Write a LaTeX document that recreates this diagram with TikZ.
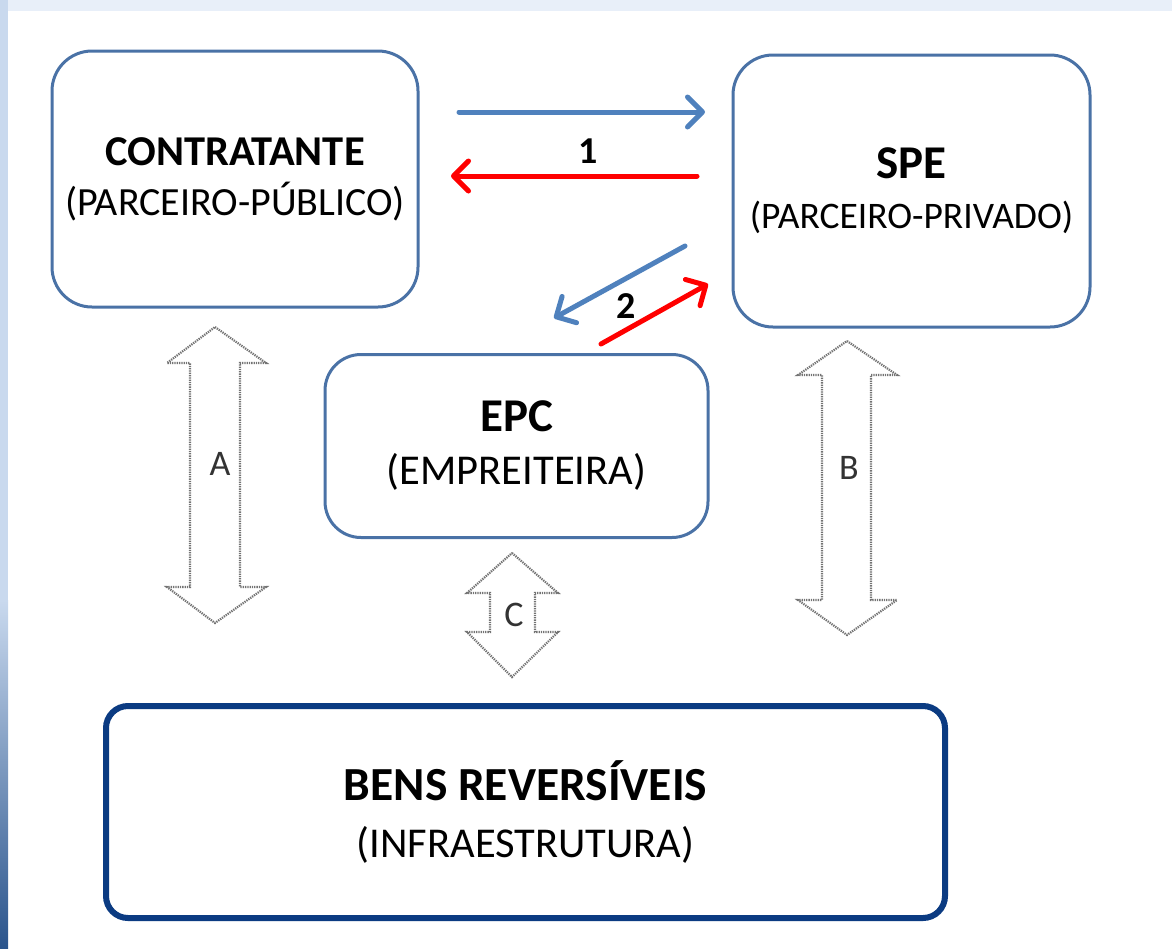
\documentclass[tikz,border=0pt]{standalone}
\usepackage{fontspec}
\setmainfont{Carlito}
\usetikzlibrary{arrows.meta}
\definecolor{boxblue}{HTML}{4A72A6}
\definecolor{navy}{HTML}{0B3B82}
\definecolor{arrblue}{HTML}{4F81BD}
\definecolor{arrred}{HTML}{FF0000}
\definecolor{framebg}{HTML}{E8EFF9}
\definecolor{framemid}{HTML}{C9D9EE}
\definecolor{framedark}{HTML}{2A548C}
\newcommand{\fsz}[2]{\fontsize{#1}{#2}\selectfont}
\tikzset{
  x=1pt, y=-1pt,
  entity/.style={draw=boxblue, line width=3pt, rounded corners=40pt, fill=white,
    align=center, inner sep=0pt},
  bigentity/.style={draw=navy, line width=6pt, rounded corners=22pt, fill=white,
    align=center, inner sep=0pt},
  flowblue/.style={draw=arrblue, line width=5pt, line cap=round,
    -{Straight Barb[length=15pt,width=30pt,line cap=round,line join=round]}},
  flowred/.style={flowblue, draw=arrred},
  blockarrow/.style={draw=black!55, fill=white, line width=2.2pt,
    dash pattern=on 1.3pt off 1pt, line join=miter},
  blocklabel/.style={text=black!80, font=\fsz{36}{40}, inner sep=0pt},
  numlabel/.style={font=\fsz{38}{42}\bfseries, inner sep=0pt}
}
\begin{document}
\begin{tikzpicture}
\useasboundingbox (0,0) rectangle (1172,948);
% background frame
\fill[framebg] (0,0) rectangle (1172,11);
\fill[framemid] (0,0) rectangle (8,600);
\shade[top color=framemid, bottom color=framedark] (0,600) rectangle (8,948);

% boxes
\node[entity, font=\fsz{40}{50}, minimum width=366pt, minimum height=256pt] (con) at (235,179)
  {{\fsz{42.5}{50}\textbf{CONTRATANTE}}\\(PARCEIRO-PÚBLICO)};
\node[entity, font=\fsz{37.5}{50}, minimum width=357pt, minimum height=272pt] (spe) at (911.5,191)
  {{\fsz{47}{50}\textbf{SPE}}\\(PARCEIRO-PRIVADO)};
\node[entity, font=\fsz{42.5}{53}, rounded corners=36pt, minimum width=383pt, minimum height=183pt] (epc) at (516.5,446)
  {{\fsz{47}{53}\textbf{EPC}}\\(EMPREITEIRA)};
\node[bigentity, font=\fsz{42.5}{57}, minimum width=839pt, minimum height=212pt] (bens) at (525.5,812)
  {{\fsz{47.5}{57}\textbf{BENS REVERSÍVEIS}}\\(INFRAESTRUTURA)};

% flow arrows 1
\coordinate (b1s) at (459,112);
\coordinate (b1e) at (705,112);
\coordinate (r1s) at (697,176);
\coordinate (r1e) at (451,176);
\draw[flowblue] (b1s) -- (b1e);
\draw[flowred] (r1s) -- (r1e);
\node[numlabel] (n1) at (588,151) {1};

% flow arrows 2
\coordinate (b2s) at (685,246);
\coordinate (b2e) at (554,318);
\coordinate (r2s) at (601,344);
\coordinate (r2e) at (708,284);
\draw[flowblue] (b2s) -- (b2e);
\draw[flowred] (r2s) -- (r2e);
\node[numlabel] (n2) at (626,306) {2};

% block double arrows
\draw[blockarrow] (215,327) -- (266,363) -- (240,363) -- (240,587) -- (266,587) -- (215,623)
  -- (167,587) -- (190,587) -- (190,363) -- (167,363) -- cycle;
\node[blocklabel] (la) at (220,464) {A};
\draw[blockarrow] (847,341) -- (897,375) -- (871,375) -- (871,600) -- (897,600) -- (847,635)
  -- (798,600) -- (822,600) -- (822,375) -- (798,375) -- cycle;
\node[blocklabel] (lb) at (849,468) {B};
\draw[blockarrow] (512,553) -- (558,593) -- (535,593) -- (535,632) -- (558,632) -- (512,677)
  -- (467,632) -- (490,632) -- (490,593) -- (467,593) -- cycle;
\node[blocklabel] (lc) at (514,615) {C};
\end{tikzpicture}
\end{document}
